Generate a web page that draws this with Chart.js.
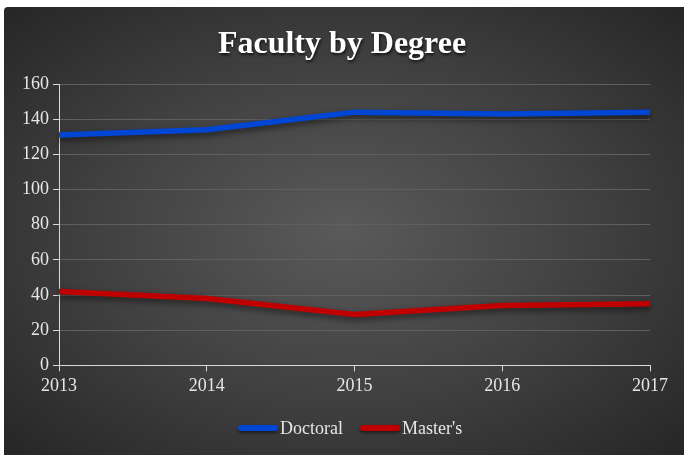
<!DOCTYPE html>
<html>
<head>
<meta charset="utf-8">
<script src="https://cdn.jsdelivr.net/npm/chart.js@4"></script>
<style>
  body { margin: 0; background: #ffffff; }
  #card {
    position: absolute; left: 4px; top: 7px; width: 680px; height: 448px;
    background: radial-gradient(ellipse at 50% 50%, #5a5a5a 0%, #3f3f3f 55%, #262626 100%);
    border-top-left-radius: 4px;
  }
  #title {
    position: absolute; left: 0; width: 684px; top: 24px; text-align: center;
    font-family: 'Liberation Serif', 'DejaVu Serif', serif; font-weight: bold; font-size: 32px;
    line-height: 36px; color: #ffffff; text-shadow: 1px 2px 3px rgba(0,0,0,0.7);
  }
  #legend {
    position: absolute; left: 238px; top: 417px; height: 22px;
    display: flex; align-items: center;
    font-family: 'Liberation Serif', 'DejaVu Serif', serif; font-size: 18px; color: #e6e6e6;
  }
  #legend .item { display: flex; align-items: center; margin-right: 17px; }
  #legend .swatch {
    display: inline-block; width: 40px; height: 6px; border-radius: 3px; margin-right: 2px;
    box-shadow: 0 2px 3px rgba(0,0,0,0.5);
  }
</style>
</head>
<body>
<div id="card"><canvas id="chart"></canvas></div>
<div id="title">Faculty by Degree</div>
<div id="legend"></div>
<script>
// Data
const years = ['2013', '2014', '2015', '2016', '2017'];
const doctoral = [131, 134, 144, 143, 144];
const masters = [42, 38, 29, 34, 35];

const serif = "'Liberation Serif', 'DejaVu Serif', serif";

// soft shadow under the lines
const lineShadow = {
    id: 'lineShadow',
    beforeDatasetDraw(chart) {
        const ctx = chart.ctx;
        ctx.save();
        ctx.shadowColor = 'rgba(0,0,0,0.55)';
        ctx.shadowBlur = 6;
        ctx.shadowOffsetY = 3;
    },
    afterDatasetDraw(chart) {
        chart.ctx.restore();
    }
};

const ctx = document.getElementById('chart').getContext('2d');
const chart = new Chart(ctx, {
    type: 'line',
    data: {
        labels: years,
        datasets: [
            {
                label: 'Doctoral',
                data: doctoral,
                borderColor: '#0046d5',
                backgroundColor: '#0046d5',
                borderWidth: 5.5,
                pointRadius: 0,
                tension: 0,
                fill: false
            },
            {
                label: "Master's",
                data: masters,
                borderColor: '#c00000',
                backgroundColor: '#c00000',
                borderWidth: 5.5,
                pointRadius: 0,
                tension: 0,
                fill: false
            }
        ]
    },
    options: {
        responsive: true,
        maintainAspectRatio: false,
        animation: false,
        layout: { padding: { left: 10, right: 34, top: 77, bottom: 54 } },
        plugins: {
            title: { display: false },
            legend: { display: false },
            tooltip: { enabled: false }
        },
        scales: {
            x: {
                offset: false,
                grid: {
                    drawOnChartArea: false,
                    drawTicks: true,
                    tickLength: 6,
                    tickColor: '#d9d9d9'
                },
                border: { color: '#d9d9d9', width: 1 },
                ticks: {
                    color: '#e6e6e6',
                    font: { family: serif, size: 18 },
                    padding: 4,
                    maxRotation: 0
                }
            },
            y: {
                min: 0,
                max: 160,
                ticks: {
                    stepSize: 20,
                    color: '#e6e6e6',
                    font: { family: serif, size: 18 },
                    padding: 4
                },
                grid: {
                    color: '#5f5f5f',
                    tickColor: '#d9d9d9',
                    tickLength: 6
                },
                border: { color: '#d9d9d9', width: 1 },
                afterFit(scale) { scale.width = 45; }
            }
        }
    },
    plugins: [lineShadow]
});

// HTML legend built from the datasets
const legend = document.getElementById('legend');
chart.data.datasets.forEach(ds => {
    const item = document.createElement('span');
    item.className = 'item';
    const sw = document.createElement('span');
    sw.className = 'swatch';
    sw.style.background = ds.borderColor;
    const label = document.createElement('span');
    label.textContent = ds.label;
    item.appendChild(sw);
    item.appendChild(label);
    legend.appendChild(item);
});
</script>
</body>
</html>
